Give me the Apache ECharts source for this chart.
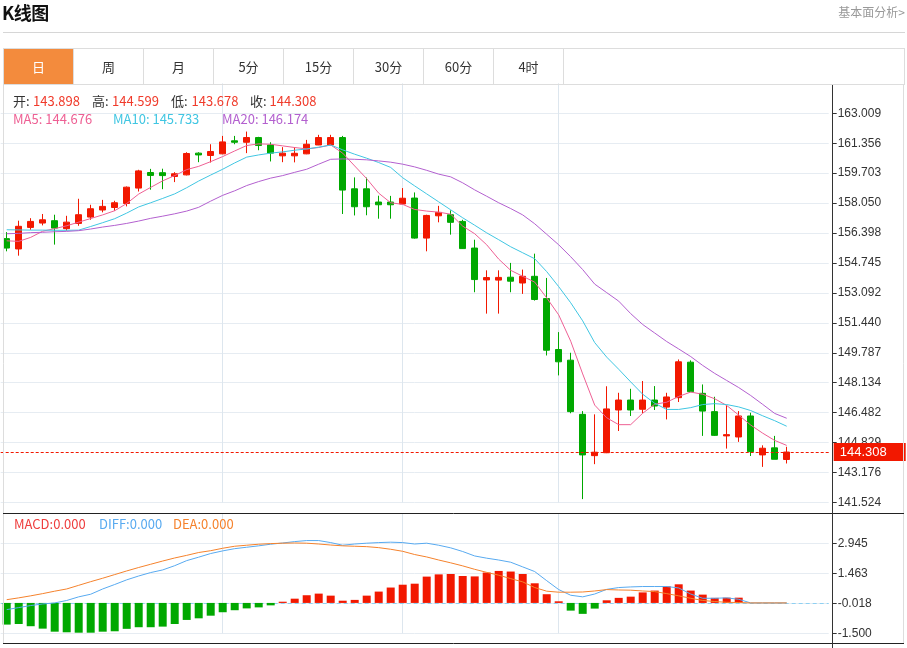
<!DOCTYPE html>
<html>
<head>
<meta charset="utf-8">
<script src="https://cdn.jsdelivr.net/npm/echarts@6/dist/echarts.min.js"></script>
<style>
html,body{margin:0;padding:0;background:#fff;width:907px;height:648px;overflow:hidden;font-family:"Microsoft YaHei","Noto Sans CJK SC",sans-serif;}
#chart{position:absolute;left:0;top:0;width:907px;height:648px;}
.title{position:absolute;left:2px;top:0px;font-size:18px;font-weight:bold;color:#111;line-height:24px;letter-spacing:-0.5px;}
.more{position:absolute;right:2px;top:4px;font-size:12px;color:#999;line-height:16px;}
.rule{position:absolute;left:3px;top:32px;width:902px;height:1px;background:#d6d6d6;}
.tabs{position:absolute;left:3px;top:48px;width:900px;height:35px;border:1px solid #ddd;display:flex;}
.tab{box-sizing:border-box;width:70px;height:35px;border-right:1px solid #ddd;text-align:center;line-height:35px;font-size:13px;color:#333;}
.tab.on{background:#f38b3d;color:#fff;}
</style>
</head>
<body>
<div id="chart"></div>
<div class="title">K线图</div>
<div class="more">基本面分析&gt;</div>
<div class="rule"></div>
<div class="tabs"><div class="tab on">日</div><div class="tab">周</div><div class="tab">月</div><div class="tab">5分</div><div class="tab">15分</div><div class="tab">30分</div><div class="tab">60分</div><div class="tab">4时</div></div>
<script>
// ---------- data ----------
const days = Array.from({length: 66}, (_, i) => 'D' + (i + 1));
const padSlots = ['p1', 'p2', 'p3'];
const openVals = [156.09,155.52,156.71,156.95,157.08,156.64,156.93,157.28,157.67,157.81,
158.03,158.88,159.74,159.73,159.52,159.61,160.81,160.68,160.77,161.49,
161.41,161.67,161.26,160.66,160.66,160.77,161.26,161.26,161.67,158.84,
158.84,158.11,158.11,158.00,158.33,156.12,157.35,157.41,157.04,155.57,
153.81,153.80,153.96,153.64,154.01,152.78,149.97,149.38,146.39,144.11,
144.27,146.63,147.18,146.67,147.18,146.79,147.31,149.27,147.55,146.54,
145.20,145.14,146.30,144.15,144.54,143.898];
const closeVals = [155.57,156.77,157.04,157.13,156.67,157.00,157.41,157.74,157.87,158.07,
158.93,159.83,159.58,159.57,159.67,160.79,160.71,160.90,161.43,161.41,
161.67,161.23,160.81,160.81,160.80,161.30,161.67,161.67,158.77,157.85,
157.85,157.96,157.96,158.32,156.12,157.37,157.54,156.99,155.54,153.83,
153.94,153.95,153.74,154.01,152.73,149.93,149.29,146.54,144.15,144.30,
146.69,147.18,146.63,147.18,146.85,147.35,149.29,147.64,146.57,145.23,
145.27,146.30,144.33,144.52,143.91,144.308];
const lowVals = [155.39,155.15,156.58,156.82,155.76,156.53,156.80,157.13,157.54,157.63,
157.87,158.69,158.79,158.82,159.21,159.58,160.31,160.29,160.75,161.30,
160.81,160.97,160.35,160.31,160.30,160.75,161.25,161.24,157.45,157.37,
157.38,157.19,157.19,157.99,156.09,155.39,156.99,156.31,155.52,153.13,
151.95,151.95,153.13,153.04,152.67,149.64,148.54,146.45,141.71,143.64,
144.25,145.47,146.30,146.45,146.63,146.11,147.07,147.62,145.20,145.20,
144.50,144.87,144.09,143.49,143.91,143.678];
const highVals = [156.45,157.08,157.22,157.45,157.41,157.35,158.29,157.96,158.23,158.18,
158.97,159.89,159.94,159.95,159.76,160.86,160.86,161.30,161.76,161.76,
162.00,161.71,161.41,161.14,161.13,161.54,161.82,161.82,161.76,159.47,
159.46,158.46,158.45,158.88,158.64,157.41,157.90,157.65,157.13,156.03,
154.34,154.34,154.75,154.38,155.26,153.92,150.93,149.79,146.57,146.39,
147.94,147.58,147.80,148.23,147.95,147.58,149.42,149.37,148.04,147.36,
146.89,146.57,146.48,144.68,145.20,144.599];
const ma5 = [155.97,155.94,156.16,156.50,156.64,156.80,157.00,157.20,157.40,157.63,
158.03,158.55,158.92,159.28,159.57,159.90,160.08,160.34,160.62,160.93,
161.23,161.32,161.30,161.21,161.12,161.04,161.12,161.26,160.81,160.10,
159.40,158.60,158.07,157.98,157.70,157.61,157.55,157.44,156.78,156.36,
155.75,154.96,154.34,154.01,153.69,152.82,151.88,150.43,148.62,146.90,
146.20,145.82,145.82,146.45,146.95,147.06,147.38,147.62,147.50,147.25,
146.88,146.35,145.80,145.35,144.95,144.676];
const ma10 = [156.58,156.57,156.56,156.56,156.55,156.55,156.56,156.76,156.97,157.19,
157.50,157.84,158.07,158.31,158.56,158.90,159.27,159.60,159.92,160.27,
160.59,160.71,160.81,160.88,160.97,161.04,161.14,161.26,160.99,160.75,
160.53,160.29,160.02,159.45,159.00,158.56,158.12,157.68,157.24,156.83,
156.41,156.03,155.64,155.31,154.98,154.27,153.44,152.55,151.55,150.35,
149.55,148.88,148.18,147.50,147.00,146.66,146.66,146.76,146.93,146.98,
146.93,146.80,146.60,146.31,146.04,145.733];
const ma20 = [156.36,156.38,156.42,156.44,156.47,156.49,156.53,156.62,156.73,156.82,
156.93,157.06,157.21,157.33,157.46,157.61,157.82,158.16,158.48,158.73,
159.02,159.24,159.43,159.57,159.75,159.92,160.20,160.47,160.49,160.47,
160.44,160.38,160.31,160.20,160.05,159.86,159.65,159.50,159.17,158.78,
158.43,158.07,157.75,157.40,156.91,156.33,155.75,155.09,154.38,153.58,
153.11,152.64,151.95,151.35,150.88,150.41,150.00,149.58,149.09,148.65,
148.26,147.87,147.43,146.94,146.44,146.174];
const macdVals = [-1.07,-1.04,-1.15,-1.27,-1.42,-1.45,-1.47,-1.47,-1.42,-1.40,
-1.28,-1.20,-1.20,-1.17,-1.04,-0.84,-0.76,-0.63,-0.46,-0.36,
-0.27,-0.22,-0.12,0.06,0.21,0.38,0.46,0.36,0.11,0.15,
0.36,0.56,0.76,0.90,0.95,1.30,1.41,1.43,1.33,1.31,
1.50,1.58,1.55,1.43,0.97,0.43,0.08,-0.38,-0.54,-0.28,
0.13,0.25,0.31,0.52,0.61,0.82,0.92,0.61,0.41,0.25,
0.26,0.26,0,0,0,0];
const diffVals = [-0.33,-0.23,-0.13,-0.05,0.00,0.12,0.30,0.43,0.69,0.91,
1.14,1.33,1.50,1.63,1.84,2.09,2.26,2.44,2.57,2.68,
2.75,2.82,2.90,2.96,3.03,3.08,3.08,2.98,2.85,2.91,
2.95,2.98,3.00,2.98,2.91,2.95,2.85,2.72,2.54,2.32,
2.21,2.12,2.01,1.78,1.55,1.10,0.66,0.38,0.30,0.44,
0.67,0.76,0.79,0.81,0.81,0.81,0.74,0.44,0.23,0.23,
0.25,0.18,0,0,0,0];
const deaVals = [0.16,0.25,0.35,0.46,0.58,0.69,0.87,1.05,1.22,1.40,
1.58,1.75,1.91,2.07,2.22,2.35,2.49,2.58,2.70,2.80,
2.85,2.90,2.93,2.95,2.96,2.95,2.91,2.86,2.82,2.80,
2.78,2.73,2.65,2.55,2.39,2.27,2.12,1.98,1.83,1.66,
1.51,1.37,1.20,1.04,0.76,0.58,0.53,0.53,0.54,0.59,
0.66,0.64,0.63,0.59,0.56,0.46,0.35,0.23,0.12,0.07,
0.03,0.02,0,0,0,0];
const priceTicks = {min: 141.52355, step: 1.652692, count: 14};
const macdTicks = {min: -1.5, step: 1.481667, count: 4};
const monthStarts = [18, 33, 46];

// ---------- chart ----------
const UP = '#f21800', DOWN = '#00a800';
const C_MA5 = '#ee6094', C_MA10 = '#40c6e2', C_MA20 = '#b360cf';
const C_DIFF = '#58aaf0', C_DEA = '#f5822c';
const last = days.length - 1;
const cats = days.concat(padSlots);
const candles = days.map((d, i) => [openVals[i], closeVals[i], lowVals[i], highVals[i]]);
const FONT = '"Microsoft YaHei","Noto Sans CJK SC",sans-serif';
const NUMFONT = '"Liberation Sans",Arial,sans-serif';

const GL = 0.7, GW = 828;
const splitX = {show: true, alignWithLabel: true, interval: (idx) => monthStarts.indexOf(idx) >= 0,
  lineStyle: {color: '#dde6ee', width: 1}};
function xAx(gi) {
  return {type: 'category', gridIndex: gi, data: cats, boundaryGap: true,
    axisLine: {show: false}, axisTick: {show: false}, axisLabel: {show: false}, splitLine: splitX};
}
function yAx(gi, t) {
  return {type: 'value', gridIndex: gi, position: 'right', offset: 4,
    min: t.min, max: +(t.min + t.step * t.count).toFixed(6), interval: t.step,
    axisLine: {show: false},
    axisTick: {show: true, length: 4, lineStyle: {color: '#333'}},
    axisLabel: {show: true, color: '#333', fontSize: 12, fontFamily: NUMFONT, margin: 5,
      showMaxLabel: false, formatter: (v) => v.toFixed(3)},
    splitLine: {show: true, showMaxLine: false, lineStyle: {color: '#e6ecf2', width: 1}}};
}

const txt = (x, y, s, color, size) => ({type: 'text', x: x, y: y, z: 100, silent: true,
  style: {text: s, fill: color, font: (size || 13) + 'px ' + FONT, verticalAlign: 'middle'}});
const lineG = (x1, y1, x2, y2, color) => ({type: 'line', silent: true, z: 90,
  shape: {x1: x1, y1: y1, x2: x2, y2: y2}, style: {stroke: color, lineWidth: 1}});

const fmt = (v) => v.toFixed(3);
const graphics = [
  lineG(3.5, 84, 3.5, 643.5, '#dddddd'),
  lineG(903.5, 84, 903.5, 643.5, '#dddddd'),
  lineG(3, 513.5, 904, 513.5, '#222222'),
  lineG(3, 643.5, 904, 643.5, '#222222'),
  lineG(832.5, 84, 832.5, 648, '#333333'),
  txt(13, 101, '开:', '#333'), txt(33, 101, fmt(openVals[last]), '#f03a2a'),
  txt(92, 101, '高:', '#333'), txt(112, 101, fmt(highVals[last]), '#f03a2a'),
  txt(171, 101, '低:', '#333'), txt(191.5, 101, fmt(lowVals[last]), '#f03a2a'),
  txt(250, 101, '收:', '#333'), txt(269.5, 101, fmt(closeVals[last]), '#f03a2a'),
  txt(13, 119, 'MA5: ' + fmt(ma5[last]), C_MA5),
  txt(113, 119, 'MA10: ' + fmt(ma10[last]), C_MA10),
  txt(222, 119, 'MA20: ' + fmt(ma20[last]), C_MA20),
  txt(14, 524.5, 'MACD:' + fmt(macdVals[last]), '#ee3d3d'),
  txt(99, 524.5, 'DIFF:' + fmt(diffVals[last]), C_DIFF),
  txt(173, 524.5, 'DEA:' + fmt(deaVals[last]), C_DEA)
];

const chart = echarts.init(document.getElementById('chart'), null, {renderer: 'canvas'});
chart.setOption({
  animation: false,
  backgroundColor: 'transparent',
  grid: [
    {left: GL, width: GW, top: 83.36, height: 419.14, containLabel: false},
    {left: GL, width: GW, top: 513.3, height: 120, containLabel: false}
  ],
  xAxis: [xAx(0), xAx(1)],
  yAxis: [yAx(0, priceTicks), yAx(1, macdTicks)],
  graphic: graphics,
  series: [
    {type: 'candlestick', name: 'K', xAxisIndex: 0, yAxisIndex: 0, data: candles, barWidth: 7,
      itemStyle: {color: UP, color0: DOWN, borderColor: UP, borderColor0: DOWN, borderWidth: 1},
      markLine: {silent: true, symbol: ['none', 'none'], animation: false, z: 5,
        lineStyle: {color: UP, type: [3, 2], width: 1},
        label: {show: true, position: 'end', distance: 5, formatter: fmt(closeVals[last]),
          color: '#fff', backgroundColor: UP, padding: [3, 19, 2, 6], fontSize: 13, fontFamily: NUMFONT},
        data: [{yAxis: closeVals[last]}]}},
    {type: 'line', name: 'MA5', data: ma5, symbol: 'none', lineStyle: {width: 1, color: C_MA5}, itemStyle: {color: C_MA5}},
    {type: 'line', name: 'MA10', data: ma10, symbol: 'none', lineStyle: {width: 1, color: C_MA10}, itemStyle: {color: C_MA10}},
    {type: 'line', name: 'MA20', data: ma20, symbol: 'none', lineStyle: {width: 1, color: C_MA20}, itemStyle: {color: C_MA20}},
    {type: 'bar', name: 'MACD', xAxisIndex: 1, yAxisIndex: 1, data: macdVals, barWidth: 8,
      itemStyle: {color: (p) => (p.value >= 0 ? UP : DOWN)},
      markLine: {silent: true, symbol: ['none', 'none'], animation: false, z: 1,
        lineStyle: {color: '#8fd0f2', type: [4, 3], width: 1}, label: {show: false},
        data: [{yAxis: 0}]}},
    {type: 'line', name: 'DIFF', xAxisIndex: 1, yAxisIndex: 1, data: diffVals, symbol: 'none',
      lineStyle: {width: 1, color: C_DIFF}, itemStyle: {color: C_DIFF}},
    {type: 'line', name: 'DEA', xAxisIndex: 1, yAxisIndex: 1, data: deaVals, symbol: 'none',
      lineStyle: {width: 1, color: C_DEA}, itemStyle: {color: C_DEA}}
  ]
});
</script>
</body>
</html>
